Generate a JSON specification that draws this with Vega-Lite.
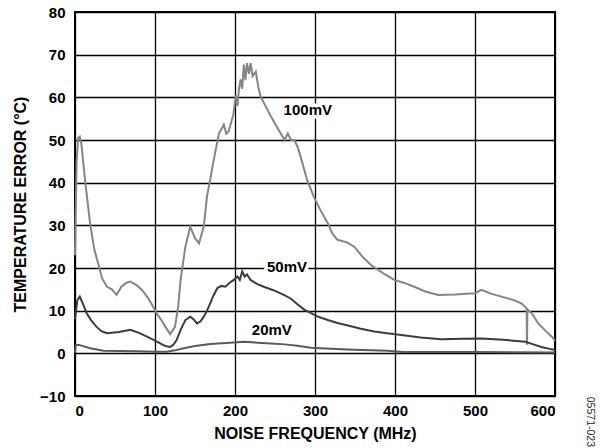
{
  "$schema": "https://vega.github.io/schema/vega-lite/v6.json",
  "autosize": {"type": "none"},
  "padding": {"left": 75, "top": 12, "right": 45, "bottom": 52},
  "width": 480,
  "height": 384,
  "background": "white",
  "title": {"text": "05571-023", "orient": "right", "anchor": "end", "fontSize": 10.5, "fontWeight": "normal", "font": "Liberation Sans", "color": "#222", "offset": 25, "dx": 6},
  "config": {
    "view": {"stroke": "black", "strokeWidth": 2},
    "axis": {
      "grid": true, "gridColor": "black", "gridWidth": 1.3, "gridOpacity": 1,
      "domain": false, "ticks": false,
      "labelFont": "Liberation Sans", "labelFontWeight": "bold", "labelFontSize": 15, "labelColor": "black",
      "titleFont": "Liberation Sans", "titleFontWeight": "bold", "titleFontSize": 16, "titleColor": "black"
    }
  },
  "datasets": {
    "curves": [
      {"f": 0, "t": 23, "s": "100mV"},
      {"f": 2, "t": 45, "s": "100mV"},
      {"f": 4, "t": 50.5, "s": "100mV"},
      {"f": 6, "t": 50.8, "s": "100mV"},
      {"f": 8, "t": 49, "s": "100mV"},
      {"f": 12.5, "t": 40.7, "s": "100mV"},
      {"f": 18.8, "t": 30.5, "s": "100mV"},
      {"f": 24, "t": 24.5, "s": "100mV"},
      {"f": 29, "t": 21, "s": "100mV"},
      {"f": 34, "t": 17.5, "s": "100mV"},
      {"f": 40, "t": 15.6, "s": "100mV"},
      {"f": 46, "t": 15, "s": "100mV"},
      {"f": 52, "t": 13.7, "s": "100mV"},
      {"f": 58, "t": 15.6, "s": "100mV"},
      {"f": 64, "t": 16.5, "s": "100mV"},
      {"f": 69, "t": 16.8, "s": "100mV"},
      {"f": 77, "t": 16, "s": "100mV"},
      {"f": 84, "t": 14.8, "s": "100mV"},
      {"f": 90, "t": 13.3, "s": "100mV"},
      {"f": 96, "t": 11.5, "s": "100mV"},
      {"f": 102, "t": 9.4, "s": "100mV"},
      {"f": 108, "t": 7.8, "s": "100mV"},
      {"f": 113, "t": 6.2, "s": "100mV"},
      {"f": 119, "t": 4.5, "s": "100mV"},
      {"f": 125, "t": 6.2, "s": "100mV"},
      {"f": 129, "t": 11, "s": "100mV"},
      {"f": 132, "t": 17.2, "s": "100mV"},
      {"f": 138, "t": 25, "s": "100mV"},
      {"f": 144, "t": 29.7, "s": "100mV"},
      {"f": 150, "t": 27, "s": "100mV"},
      {"f": 155, "t": 25.8, "s": "100mV"},
      {"f": 161, "t": 29.7, "s": "100mV"},
      {"f": 165, "t": 36.8, "s": "100mV"},
      {"f": 169, "t": 40.7, "s": "100mV"},
      {"f": 173.5, "t": 45.4, "s": "100mV"},
      {"f": 180, "t": 51.6, "s": "100mV"},
      {"f": 183, "t": 52.5, "s": "100mV"},
      {"f": 186, "t": 53.6, "s": "100mV"},
      {"f": 189, "t": 51.5, "s": "100mV"},
      {"f": 192, "t": 52, "s": "100mV"},
      {"f": 195, "t": 54, "s": "100mV"},
      {"f": 198, "t": 56, "s": "100mV"},
      {"f": 201, "t": 60.5, "s": "100mV"},
      {"f": 203, "t": 58, "s": "100mV"},
      {"f": 205, "t": 62, "s": "100mV"},
      {"f": 207, "t": 64.2, "s": "100mV"},
      {"f": 209, "t": 62, "s": "100mV"},
      {"f": 211, "t": 67.7, "s": "100mV"},
      {"f": 213, "t": 64, "s": "100mV"},
      {"f": 215, "t": 68, "s": "100mV"},
      {"f": 217.5, "t": 65.5, "s": "100mV"},
      {"f": 219.5, "t": 68, "s": "100mV"},
      {"f": 222, "t": 65, "s": "100mV"},
      {"f": 226, "t": 66, "s": "100mV"},
      {"f": 229, "t": 62.5, "s": "100mV"},
      {"f": 232, "t": 60.2, "s": "100mV"},
      {"f": 238, "t": 58, "s": "100mV"},
      {"f": 245, "t": 55.5, "s": "100mV"},
      {"f": 251, "t": 53.5, "s": "100mV"},
      {"f": 257, "t": 51.6, "s": "100mV"},
      {"f": 262, "t": 50, "s": "100mV"},
      {"f": 266, "t": 51.5, "s": "100mV"},
      {"f": 270, "t": 50, "s": "100mV"},
      {"f": 274, "t": 50, "s": "100mV"},
      {"f": 278, "t": 48.5, "s": "100mV"},
      {"f": 282, "t": 46.1, "s": "100mV"},
      {"f": 290, "t": 40.7, "s": "100mV"},
      {"f": 299, "t": 36.5, "s": "100mV"},
      {"f": 307, "t": 33.5, "s": "100mV"},
      {"f": 316, "t": 30.5, "s": "100mV"},
      {"f": 322, "t": 28, "s": "100mV"},
      {"f": 328, "t": 26.6, "s": "100mV"},
      {"f": 340, "t": 26, "s": "100mV"},
      {"f": 349, "t": 25, "s": "100mV"},
      {"f": 360, "t": 22.5, "s": "100mV"},
      {"f": 370, "t": 20.7, "s": "100mV"},
      {"f": 385, "t": 18.8, "s": "100mV"},
      {"f": 399, "t": 17.2, "s": "100mV"},
      {"f": 412, "t": 16.5, "s": "100mV"},
      {"f": 424, "t": 15.6, "s": "100mV"},
      {"f": 438, "t": 14.5, "s": "100mV"},
      {"f": 454, "t": 13.7, "s": "100mV"},
      {"f": 475, "t": 13.8, "s": "100mV"},
      {"f": 500, "t": 14.1, "s": "100mV"},
      {"f": 508, "t": 14.9, "s": "100mV"},
      {"f": 520, "t": 14, "s": "100mV"},
      {"f": 533, "t": 13.3, "s": "100mV"},
      {"f": 548, "t": 12.5, "s": "100mV"},
      {"f": 558, "t": 11.7, "s": "100mV"},
      {"f": 564.5, "t": 10.6, "s": "100mV"},
      {"f": 565, "t": 2, "s": "100mV"},
      {"f": 565.5, "t": 10.3, "s": "100mV"},
      {"f": 571, "t": 9.4, "s": "100mV"},
      {"f": 579, "t": 7, "s": "100mV"},
      {"f": 587, "t": 5.5, "s": "100mV"},
      {"f": 596, "t": 3.9, "s": "100mV"},
      {"f": 600, "t": 3, "s": "100mV"},

      {"f": 0, "t": 8, "s": "50mV"},
      {"f": 3, "t": 12.5, "s": "50mV"},
      {"f": 6, "t": 13.3, "s": "50mV"},
      {"f": 9, "t": 12, "s": "50mV"},
      {"f": 14.6, "t": 9.4, "s": "50mV"},
      {"f": 20, "t": 7.8, "s": "50mV"},
      {"f": 27, "t": 6.2, "s": "50mV"},
      {"f": 33, "t": 5.2, "s": "50mV"},
      {"f": 40, "t": 4.7, "s": "50mV"},
      {"f": 55, "t": 5, "s": "50mV"},
      {"f": 69, "t": 5.5, "s": "50mV"},
      {"f": 80, "t": 4.8, "s": "50mV"},
      {"f": 90, "t": 3.9, "s": "50mV"},
      {"f": 100, "t": 3, "s": "50mV"},
      {"f": 107, "t": 2.3, "s": "50mV"},
      {"f": 113, "t": 1.7, "s": "50mV"},
      {"f": 119, "t": 1.5, "s": "50mV"},
      {"f": 123, "t": 2, "s": "50mV"},
      {"f": 127, "t": 3.1, "s": "50mV"},
      {"f": 132, "t": 5.5, "s": "50mV"},
      {"f": 138, "t": 7.8, "s": "50mV"},
      {"f": 144, "t": 8.6, "s": "50mV"},
      {"f": 148, "t": 8, "s": "50mV"},
      {"f": 152.5, "t": 7, "s": "50mV"},
      {"f": 157, "t": 7.5, "s": "50mV"},
      {"f": 161, "t": 8.6, "s": "50mV"},
      {"f": 165, "t": 10, "s": "50mV"},
      {"f": 169, "t": 11.7, "s": "50mV"},
      {"f": 173, "t": 13.5, "s": "50mV"},
      {"f": 178, "t": 15.3, "s": "50mV"},
      {"f": 183, "t": 15.8, "s": "50mV"},
      {"f": 188, "t": 15.6, "s": "50mV"},
      {"f": 193, "t": 16.5, "s": "50mV"},
      {"f": 198.5, "t": 17.2, "s": "50mV"},
      {"f": 203, "t": 18, "s": "50mV"},
      {"f": 206, "t": 17.2, "s": "50mV"},
      {"f": 209, "t": 19.2, "s": "50mV"},
      {"f": 212, "t": 18, "s": "50mV"},
      {"f": 215, "t": 18.5, "s": "50mV"},
      {"f": 219.5, "t": 17.2, "s": "50mV"},
      {"f": 228, "t": 16.2, "s": "50mV"},
      {"f": 236, "t": 15.6, "s": "50mV"},
      {"f": 248, "t": 14.8, "s": "50mV"},
      {"f": 261, "t": 13.7, "s": "50mV"},
      {"f": 270, "t": 12.8, "s": "50mV"},
      {"f": 278, "t": 11.5, "s": "50mV"},
      {"f": 287, "t": 10.2, "s": "50mV"},
      {"f": 295, "t": 9.4, "s": "50mV"},
      {"f": 305, "t": 8.5, "s": "50mV"},
      {"f": 316, "t": 7.8, "s": "50mV"},
      {"f": 328, "t": 7.1, "s": "50mV"},
      {"f": 340, "t": 6.6, "s": "50mV"},
      {"f": 356, "t": 5.8, "s": "50mV"},
      {"f": 374, "t": 5.1, "s": "50mV"},
      {"f": 390, "t": 4.7, "s": "50mV"},
      {"f": 408, "t": 4.3, "s": "50mV"},
      {"f": 432, "t": 3.7, "s": "50mV"},
      {"f": 458, "t": 3.3, "s": "50mV"},
      {"f": 485, "t": 3.4, "s": "50mV"},
      {"f": 508, "t": 3.5, "s": "50mV"},
      {"f": 535, "t": 3.2, "s": "50mV"},
      {"f": 563, "t": 2.7, "s": "50mV"},
      {"f": 573, "t": 2.1, "s": "50mV"},
      {"f": 583, "t": 1.5, "s": "50mV"},
      {"f": 592, "t": 1.1, "s": "50mV"},
      {"f": 600, "t": 0.8, "s": "50mV"},

      {"f": 0, "t": 0.2, "s": "20mV"},
      {"f": 1, "t": 1.9, "s": "20mV"},
      {"f": 4, "t": 2, "s": "20mV"},
      {"f": 8, "t": 1.8, "s": "20mV"},
      {"f": 19, "t": 1.2, "s": "20mV"},
      {"f": 35.5, "t": 0.6, "s": "20mV"},
      {"f": 77, "t": 0.5, "s": "20mV"},
      {"f": 100, "t": 0.4, "s": "20mV"},
      {"f": 115, "t": 0.4, "s": "20mV"},
      {"f": 125, "t": 0.7, "s": "20mV"},
      {"f": 136, "t": 1.2, "s": "20mV"},
      {"f": 150, "t": 1.7, "s": "20mV"},
      {"f": 169, "t": 2.2, "s": "20mV"},
      {"f": 194, "t": 2.5, "s": "20mV"},
      {"f": 211, "t": 2.7, "s": "20mV"},
      {"f": 228, "t": 2.5, "s": "20mV"},
      {"f": 245, "t": 2.3, "s": "20mV"},
      {"f": 262, "t": 2.1, "s": "20mV"},
      {"f": 278, "t": 1.8, "s": "20mV"},
      {"f": 295, "t": 1.3, "s": "20mV"},
      {"f": 307, "t": 1.2, "s": "20mV"},
      {"f": 340, "t": 0.9, "s": "20mV"},
      {"f": 370, "t": 0.7, "s": "20mV"},
      {"f": 391, "t": 0.6, "s": "20mV"},
      {"f": 410, "t": 0.3, "s": "20mV"},
      {"f": 500, "t": 0.3, "s": "20mV"},
      {"f": 600, "t": 0.2, "s": "20mV"}
    ],
    "labels": [
      {"f": 291, "t": 57, "label": "100mV"},
      {"f": 265, "t": 20.3, "label": "50mV"},
      {"f": 246, "t": 5.5, "label": "20mV"}
    ]
  },
  "layer": [
    {
      "data": {"name": "curves"},
      "mark": {"type": "line", "strokeWidth": 2, "interpolate": "linear"},
      "encoding": {
        "x": {"field": "f", "type": "quantitative", "scale": {"domain": [0, 600], "nice": false}, "axis": {"values": [0, 100, 200, 300, 400, 500, 600], "title": "NOISE FREQUENCY (MHz)", "labelPadding": 7, "titlePadding": 7}},
        "y": {"field": "t", "type": "quantitative", "scale": {"domain": [-10, 80], "nice": false}, "axis": {"values": [-10, 0, 10, 20, 30, 40, 50, 60, 70, 80], "title": "TEMPERATURE ERROR (°C)", "labelPadding": 10, "titlePadding": 11}},
        "color": {"field": "s", "type": "nominal", "scale": {"domain": ["100mV", "50mV", "20mV"], "range": ["#858585", "#3c3c3c", "#5a5a5a"]}, "legend": null},
        "order": {"field": "f", "type": "quantitative"}
      }
    },
    {
      "data": {"name": "labels"},
      "mark": {"type": "text", "font": "Liberation Sans", "fontWeight": "bold", "fontSize": 15, "stroke": "white", "strokeWidth": 7, "strokeJoin": "round", "fill": "white"},
      "encoding": {
        "x": {"field": "f", "type": "quantitative"},
        "y": {"field": "t", "type": "quantitative"},
        "text": {"field": "label"}
      }
    },
    {
      "data": {"name": "labels"},
      "mark": {"type": "text", "font": "Liberation Sans", "fontWeight": "bold", "fontSize": 15, "fill": "black"},
      "encoding": {
        "x": {"field": "f", "type": "quantitative"},
        "y": {"field": "t", "type": "quantitative"},
        "text": {"field": "label"}
      }
    }
  ]
}
